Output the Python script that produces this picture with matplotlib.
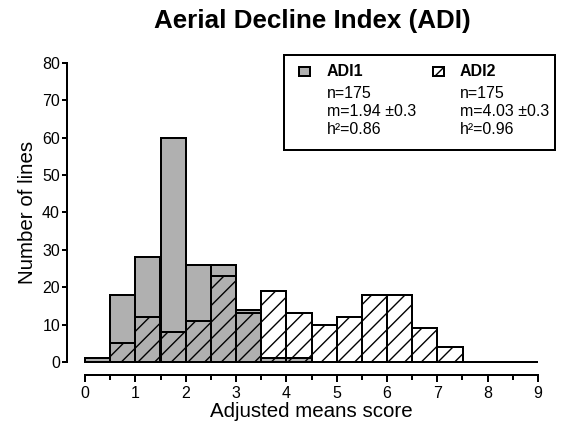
import numpy as np
import matplotlib.pyplot as plt
from matplotlib.patches import Rectangle

plt.rcParams['font.family'] = ['Liberation Sans', 'DejaVu Sans']
plt.rcParams['hatch.linewidth'] = 1.0

# bin left edges (width 0.5) and counts
bins = np.arange(0, 9, 0.5)
adi1 = [1, 18, 28, 60, 26, 26, 14, 1, 1, 0, 0, 0, 0, 0, 0, 0, 0, 0]
adi2 = [0, 5, 12, 8, 11, 23, 13, 19, 13, 10, 12, 18, 18, 9, 4, 0, 0, 0]

stats1 = ['n=175', 'm=1.94 \u00b10.3', 'h\u00b2=0.86']
stats2 = ['n=175', 'm=4.03 \u00b10.3', 'h\u00b2=0.96']

W, H = 566, 433
PT = 0.72  # points per pixel at dpi 100
fig = plt.figure(figsize=(W / 100, H / 100), dpi=100)
ax = fig.add_axes([85 / W, 0.164, 453 / W, 0.6905])

ax.bar(bins, adi1, width=0.5, align='edge', color='#b0b0b0',
       edgecolor='black', linewidth=2 * PT, clip_on=False)
ax.bar(bins, adi2, width=0.5, align='edge', fill=False, hatch='//',
       edgecolor='black', linewidth=2 * PT, clip_on=False)

ax.set_xlim(0, 9)
ax.set_ylim(0, 80)
ax.set_xticks(range(0, 10))
ax.set_xticks(np.arange(0.5, 9, 1), minor=True)
ax.set_yticks(range(0, 81, 10))
ax.spines['top'].set_visible(False)
ax.spines['right'].set_visible(False)
ax.spines['bottom'].set_position(('outward', 13 * PT))
ax.spines['left'].set_position(('outward', 18 * PT))
for s in ('bottom', 'left'):
    ax.spines[s].set_linewidth(2 * PT)
ax.tick_params(axis='x', which='major', direction='out', width=2 * PT,
               length=7 * PT, labelsize=16 * PT, pad=4 * PT)
ax.tick_params(axis='x', which='minor', direction='out', width=2 * PT,
               length=5 * PT)
ax.tick_params(axis='y', direction='out', width=2 * PT, length=5 * PT,
               labelsize=16 * PT, pad=2 * PT)

ax.set_xlabel('Adjusted means score', fontsize=20.5 * PT, labelpad=1 * PT)
ax.set_ylabel('Number of lines', fontsize=20.5 * PT, labelpad=5 * PT)
fig.text(0.552, 1 - 21 / H, 'Aerial Decline Index (ADI)', fontsize=26 * PT,
         fontweight='bold', ha='center', va='center')

# legend box
def fx(px):
    return px / W

def fy(py):
    return 1 - py / H

fig.patches.append(Rectangle((fx(284), fy(150)), fx(555) - fx(284), fy(55) - fy(150),
                             transform=fig.transFigure, fill=False,
                             edgecolor='black', linewidth=2 * PT))
fig.patches.append(Rectangle((fx(299), fy(76)), 11 / W, 9 / H,
                             transform=fig.transFigure, facecolor='#b0b0b0',
                             edgecolor='black', linewidth=2 * PT))
fig.patches.append(Rectangle((fx(433), fy(76)), 11 / W, 9 / H,
                             transform=fig.transFigure, fill=False, hatch='///',
                             edgecolor='black', linewidth=2 * PT))
fig.text(fx(327), fy(71), 'ADI1', fontsize=16 * PT, fontweight='bold', va='center')
fig.text(fx(460), fy(71), 'ADI2', fontsize=16 * PT, fontweight='bold', va='center')
for i, (a, b) in enumerate(zip(stats1, stats2)):
    y = fy(93 + i * 18.5)
    fig.text(fx(327), y, a, fontsize=16 * PT, va='center')
    fig.text(fx(460), y, b, fontsize=16 * PT, va='center')

fig.savefig('out.png', dpi=100)
